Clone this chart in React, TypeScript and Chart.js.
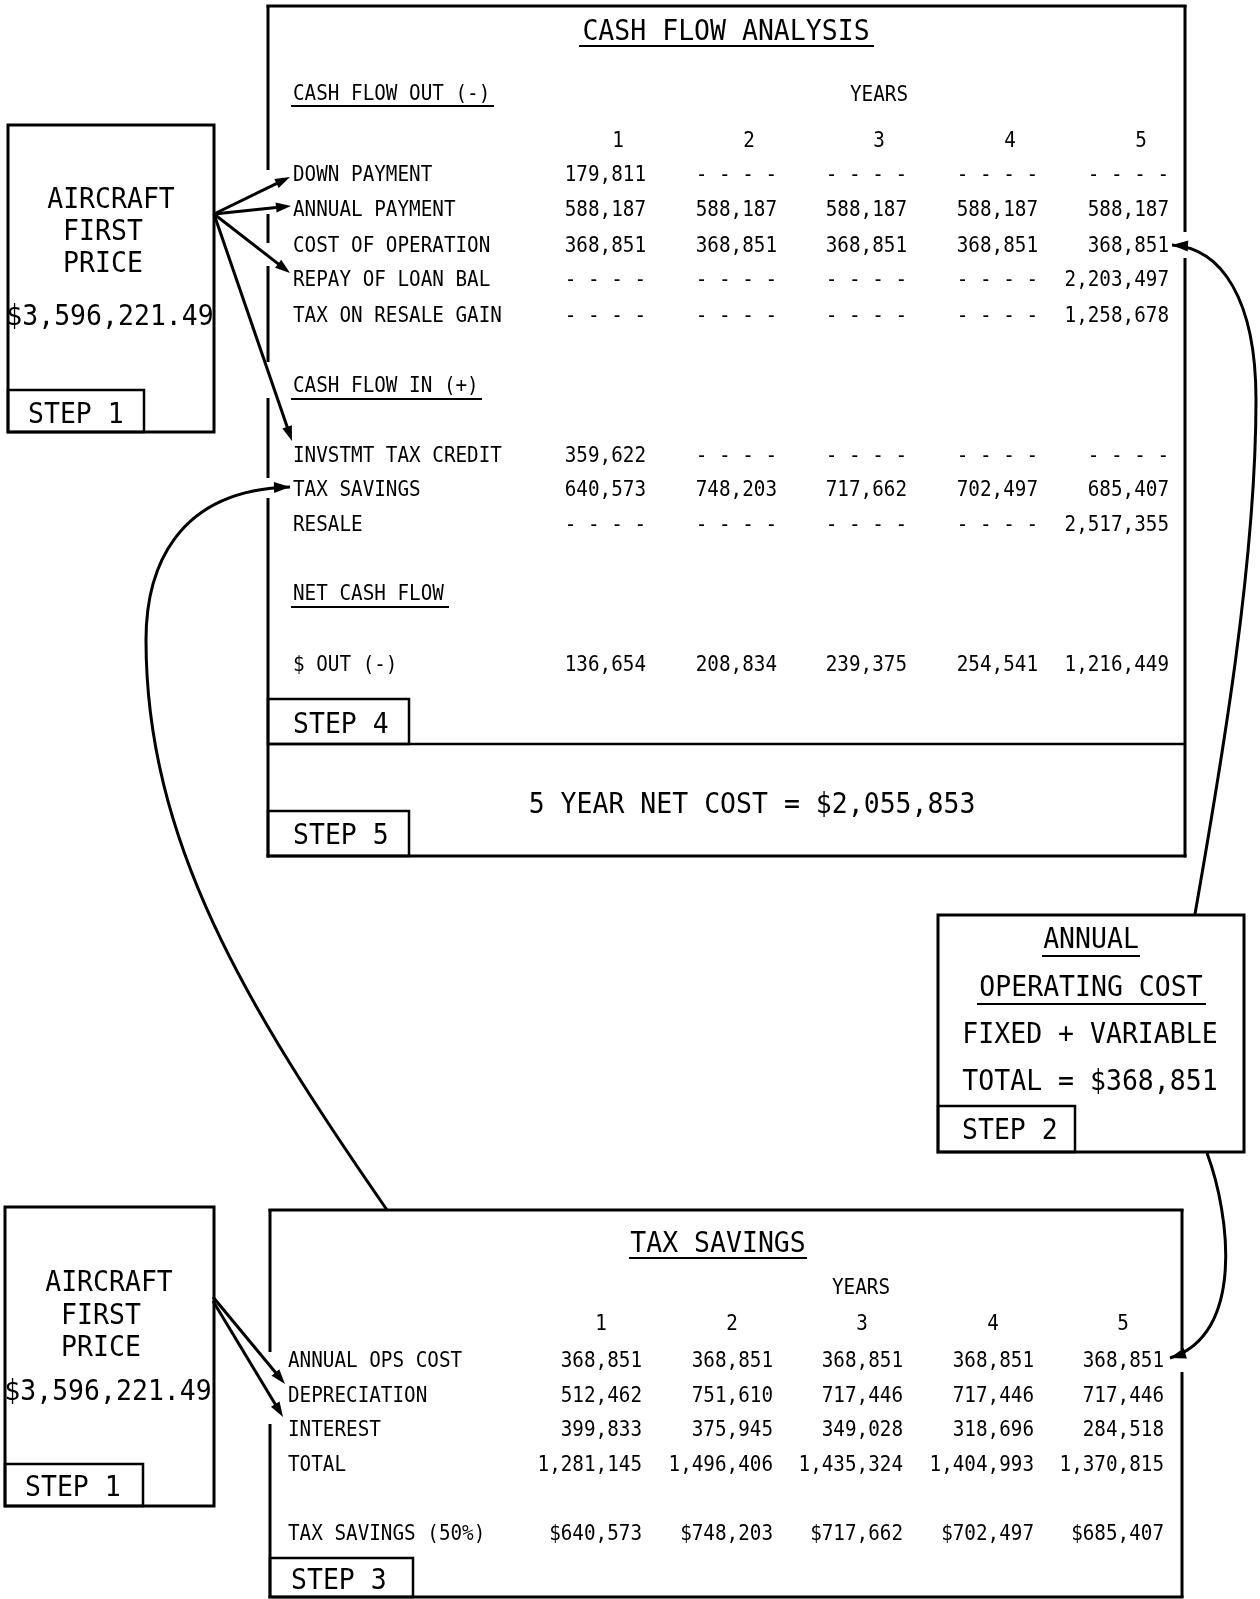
import React, { useEffect, useRef } from "react";
import { Chart, registerables } from "chart.js";

Chart.register(...registerables);

// ================= DATA =================
const years = ["1", "2", "3", "4", "5"];
const aircraftFirstPrice = "$3,596,221.49";
const operatingCostTotal = 368851;
const fiveYearNetCost = 2055853;

const cashOutLabels = ["DOWN PAYMENT", "ANNUAL PAYMENT", "COST OF OPERATION", "REPAY OF LOAN BAL", "TAX ON RESALE GAIN"];
const downPayment = [179811, null, null, null, null];
const annualPayment = [588187, 588187, 588187, 588187, 588187];
const costOfOperation = [368851, 368851, 368851, 368851, 368851];
const repayLoanBalance = [null, null, null, null, 2203497];
const taxOnResaleGain = [null, null, null, null, 1258678];

const cashInLabels = ["INVSTMT TAX CREDIT", "TAX SAVINGS", "RESALE"];
const investmentTaxCredit = [359622, null, null, null, null];
const taxSavingsIn = [640573, 748203, 717662, 702497, 685407];
const resale = [null, null, null, null, 2517355];

const netLabels = ["$ OUT (-)"];
const netOut = [136654, 208834, 239375, 254541, 1216449];

const taxLabels = ["ANNUAL OPS COST", "DEPRECIATION", "INTEREST", "TOTAL", "TAX SAVINGS (50%)"];
const annualOpsCost = [368851, 368851, 368851, 368851, 368851];
const depreciation = [512462, 751610, 717446, 717446, 717446];
const interest = [399833, 375945, 349028, 318696, 284518];
const totalDeductions = [1281145, 1496406, 1435324, 1404993, 1370815];
const taxSavings50 = [640573, 748203, 717662, 702497, 685407];

// ================= LAYOUT =================
const W = 1260;
const H = 1599;
const FONT = '"DejaVu Sans Mono", monospace';
const SMALL = 19.3;
const BIG = 26.5;
const SY = 1.1;

const TOP_COL_RIGHT = [646, 777, 907, 1038, 1169];
const TOP_HEADER_Y = 139;
const TOP_HEADER_OFF = -28;
const TOP_LABEL_X = 293;
const CASH_OUT_Y = [173, 208, 244, 278, 314];
const CASH_IN_Y = [454, 488, 523];
const NET_Y = [663];

const BOT_COL_RIGHT = [642, 773, 903, 1034, 1164];
const BOT_HEADER_Y = 1322;
const BOT_HEADER_OFF = -41;
const BOT_LABEL_X = 288;
const TAX_Y = [1359, 1394, 1428, 1463, 1532];

const fmt = (v: number | null, prefix = "") =>
  v == null ? "- - - -" : prefix + v.toLocaleString("en-US");

function rowDatasets(labels: string[], series: (number | null)[][], ys: number[], cols: number[], labelX: number, prefix = "") {
  return labels.map((label, r) => ({
    label,
    data: cols.map((x) => ({ x, y: ys[r] })),
    texts: series[r].map((v) => fmt(v, prefix)),
    rowLabel: label,
    labelX,
    align: "right",
    pointRadius: 0,
    showLine: false,
  }));
}

function headerDataset(cols: number[], off: number, y: number) {
  return {
    label: "years",
    data: cols.map((x) => ({ x: x + off, y })),
    texts: years,
    align: "center",
    pointRadius: 0,
    showLine: false,
  };
}

const datasets: any[] = [
  headerDataset(TOP_COL_RIGHT, TOP_HEADER_OFF, TOP_HEADER_Y),
  ...rowDatasets(cashOutLabels, [downPayment, annualPayment, costOfOperation, repayLoanBalance, taxOnResaleGain], CASH_OUT_Y, TOP_COL_RIGHT, TOP_LABEL_X),
  ...rowDatasets(cashInLabels, [investmentTaxCredit, taxSavingsIn, resale], CASH_IN_Y, TOP_COL_RIGHT, TOP_LABEL_X),
  ...rowDatasets(netLabels, [netOut], NET_Y, TOP_COL_RIGHT, TOP_LABEL_X),
  headerDataset(BOT_COL_RIGHT, BOT_HEADER_OFF, BOT_HEADER_Y),
  ...rowDatasets(taxLabels.slice(0, 4), [annualOpsCost, depreciation, interest, totalDeductions], TAX_Y.slice(0, 4), BOT_COL_RIGHT, BOT_LABEL_X),
  ...rowDatasets(taxLabels.slice(4), [taxSavings50], TAX_Y.slice(4), BOT_COL_RIGHT, BOT_LABEL_X, "$"),
];

// ================= DRAWING HELPERS =================
function txt(ctx: CanvasRenderingContext2D, s: string, x: number, y: number, size: number, align: CanvasTextAlign) {
  ctx.save();
  ctx.font = `${size}px ${FONT}`;
  ctx.textAlign = align;
  ctx.textBaseline = "alphabetic";
  ctx.fillStyle = "#000";
  const cap = 0.729 * size * SY;
  ctx.translate(x, y + cap / 2);
  ctx.scale(1, SY);
  ctx.fillText(s, 0, 0);
  ctx.restore();
}

const diagramPlugin = {
  id: "diagram",
  beforeDraw(chart: any) {
    const ctx = chart.ctx;
    ctx.save();
    ctx.fillStyle = "#fff";
    ctx.fillRect(0, 0, chart.width, chart.height);
    ctx.restore();
  },
  beforeDatasetsDraw(chart: any) {
    const ctx: CanvasRenderingContext2D = chart.ctx;
    const xs = chart.scales.x;
    const ys = chart.scales.y;
    const X = (v: number) => xs.getPixelForValue(v);
    const Y = (v: number) => ys.getPixelForValue(v);
    ctx.save();
    ctx.strokeStyle = "#000";
    ctx.fillStyle = "#000";
    ctx.lineCap = "butt";

    const line = (x1: number, y1: number, x2: number, y2: number, lw: number) => {
      ctx.lineWidth = lw;
      ctx.beginPath();
      ctx.moveTo(X(x1), Y(y1));
      ctx.lineTo(X(x2), Y(y2));
      ctx.stroke();
    };
    const rect = (x1: number, y1: number, x2: number, y2: number, lw: number) => {
      ctx.lineWidth = lw;
      ctx.strokeRect(X(x1), Y(y1), X(x2) - X(x1), Y(y2) - Y(y1));
    };
    const vline = (x: number, y1: number, y2: number, gaps: number[][], lw: number) => {
      let cur = y1;
      for (const [g1, g2] of gaps) {
        line(x, cur, x, g1, lw);
        cur = g2;
      }
      line(x, cur, x, y2, lw);
    };
    const head = (tx: number, ty: number, fx: number, fy: number, len = 15, half = 5) => {
      const a = Math.atan2(Y(ty) - Y(fy), X(tx) - X(fx));
      const px = X(tx);
      const py = Y(ty);
      ctx.beginPath();
      ctx.moveTo(px, py);
      ctx.lineTo(px - len * Math.cos(a) + half * Math.sin(a), py - len * Math.sin(a) - half * Math.cos(a));
      ctx.lineTo(px - len * Math.cos(a) - half * Math.sin(a), py - len * Math.sin(a) + half * Math.cos(a));
      ctx.closePath();
      ctx.fill();
    };
    const arrow = (x1: number, y1: number, x2: number, y2: number, lw: number) => {
      const d = Math.hypot(x2 - x1, y2 - y1);
      const ex = x2 - ((x2 - x1) / d) * 10;
      const ey = y2 - ((y2 - y1) / d) * 10;
      line(x1, y1, ex, ey, lw);
      head(x2, y2, x1, y1);
    };
    const curve = (segs: number[][], lw: number, arrowEnd: boolean) => {
      ctx.lineWidth = lw;
      ctx.beginPath();
      ctx.moveTo(X(segs[0][0]), Y(segs[0][1]));
      for (const s of segs) {
        ctx.bezierCurveTo(X(s[2]), Y(s[3]), X(s[4]), Y(s[5]), X(s[6]), Y(s[7]));
      }
      ctx.stroke();
      if (arrowEnd) {
        const s = segs[segs.length - 1];
        head(s[6], s[7], s[4], s[5], 16, 5.5);
      }
    };
    const underline = (x1: number, x2: number, y: number) => line(x1, y, x2, y, 2);

    // ---------- CASH FLOW ANALYSIS box ----------
    line(266.5, 6, 1186.5, 6, 3);
    vline(268, 5, 857.5, [[170, 214], [243, 266], [362, 398], [478, 498]], 3);
    vline(1185, 5, 857.5, [[232, 258]], 3);
    line(266.5, 856, 1186.5, 856, 3);
    line(268, 744, 1185, 744, 2.5);
    txt(ctx, "CASH FLOW ANALYSIS", X(726), Y(29), BIG, "center");
    underline(579, 874, 46);
    txt(ctx, "CASH FLOW OUT (-)", X(TOP_LABEL_X), Y(92), SMALL, "left");
    underline(291, 494, 106);
    txt(ctx, "YEARS", X(879), Y(93), SMALL, "center");
    txt(ctx, "CASH FLOW IN (+)", X(TOP_LABEL_X), Y(384), SMALL, "left");
    underline(291, 482, 399);
    txt(ctx, "NET CASH FLOW", X(TOP_LABEL_X), Y(592), SMALL, "left");
    underline(291, 449, 607);
    rect(268, 699, 409, 744, 2.5);
    txt(ctx, "STEP 4", X(293), Y(722), BIG, "left");
    rect(268, 811, 409, 856, 2.5);
    txt(ctx, "STEP 5", X(293), Y(833), BIG, "left");
    txt(ctx, "5 YEAR NET COST = " + fmt(fiveYearNetCost, "$"), X(752), Y(802), BIG, "center");

    // ---------- STEP 1 (top) ----------
    rect(8, 125, 214, 432, 3);
    rect(8, 390, 144, 432, 2.5);
    txt(ctx, "AIRCRAFT", X(111), Y(197), BIG, "center");
    txt(ctx, "FIRST", X(103), Y(229), BIG, "center");
    txt(ctx, "PRICE", X(103), Y(261), BIG, "center");
    txt(ctx, aircraftFirstPrice, X(110), Y(314), BIG, "center");
    txt(ctx, "STEP 1", X(28), Y(412), BIG, "left");
    arrow(214, 214, 290, 177, 3);
    arrow(214, 214, 291, 206, 3);
    arrow(214, 214, 290, 273, 3);
    arrow(214, 214, 292, 441, 3);

    // ---------- STEP 2 ----------
    rect(938, 915, 1244, 1152, 3);
    rect(938, 1106, 1075, 1152, 2.5);
    txt(ctx, "ANNUAL", X(1091), Y(937), BIG, "center");
    underline(1042, 1140, 956);
    txt(ctx, "OPERATING COST", X(1091), Y(985), BIG, "center");
    underline(977, 1206, 1004);
    txt(ctx, "FIXED + VARIABLE", X(1090), Y(1032), BIG, "center");
    txt(ctx, "TOTAL = " + fmt(operatingCostTotal, "$"), X(1090), Y(1079), BIG, "center");
    txt(ctx, "STEP 2", X(962), Y(1128), BIG, "left");

    // ---------- TAX SAVINGS box ----------
    line(268.5, 1210, 1183.5, 1210, 3);
    vline(270, 1209, 1598, [[1352, 1424]], 3);
    vline(1182, 1209, 1598, [[1350, 1372]], 3);
    line(268.5, 1597, 1183.5, 1597, 3);
    txt(ctx, "TAX SAVINGS", X(718), Y(1241), BIG, "center");
    underline(629, 807, 1258);
    txt(ctx, "YEARS", X(861), Y(1286), SMALL, "center");
    rect(270, 1558, 413, 1597, 2.5);
    txt(ctx, "STEP 3", X(291), Y(1578), BIG, "left");

    // ---------- STEP 1 (bottom) ----------
    rect(5, 1207, 214, 1506, 3);
    rect(5, 1464, 143, 1506, 2.5);
    txt(ctx, "AIRCRAFT", X(109), Y(1280), BIG, "center");
    txt(ctx, "FIRST", X(101), Y(1313), BIG, "center");
    txt(ctx, "PRICE", X(101), Y(1345), BIG, "center");
    txt(ctx, aircraftFirstPrice, X(108), Y(1389), BIG, "center");
    txt(ctx, "STEP 1", X(25), Y(1485), BIG, "left");
    arrow(213, 1297, 285, 1384, 3);
    arrow(213, 1301, 283, 1417, 3);

    // ---------- connecting curves ----------
    curve([
      [1195, 914, 1222, 760, 1256, 560, 1256, 400],
      [1256, 400, 1256, 300, 1222, 248, 1172, 245],
    ], 3, true);
    curve([[1207, 1153, 1230, 1215, 1245, 1335, 1170, 1358]], 3, true);
    curve([
      [387, 1210, 245, 1005, 146, 840, 146, 640],
      [146, 640, 146, 570, 175, 490, 290, 487],
    ], 3, true);

    ctx.restore();
  },
  afterDatasetsDraw(chart: any) {
    const ctx: CanvasRenderingContext2D = chart.ctx;
    const xs = chart.scales.x;
    chart.data.datasets.forEach((ds: any, i: number) => {
      const meta = chart.getDatasetMeta(i);
      meta.data.forEach((pt: any, j: number) => {
        txt(ctx, ds.texts[j], pt.x, pt.y, SMALL, ds.align);
      });
      if (ds.rowLabel && meta.data.length) {
        txt(ctx, ds.rowLabel, xs.getPixelForValue(ds.labelX), meta.data[0].y, SMALL, "left");
      }
    });
  },
};

export default function App() {
  const ref = useRef<HTMLCanvasElement>(null);
  useEffect(() => {
    document.body.style.margin = "0";
    const canvas = ref.current!;
    const chart = new Chart(canvas, {
      type: "scatter",
      data: { datasets },
      options: {
        responsive: false,
        maintainAspectRatio: false,
        animation: false,
        events: [],
        layout: { padding: 0 },
        plugins: { legend: { display: false }, tooltip: { enabled: false }, title: { display: false } },
        scales: {
          x: { type: "linear", min: 0, max: W, display: false },
          y: { type: "linear", min: 0, max: H, reverse: true, display: false },
        },
      },
      plugins: [diagramPlugin],
    } as any);
    return () => chart.destroy();
  }, []);
  return <canvas ref={ref} width={W} height={H} style={{ display: "block" }} />;
}
